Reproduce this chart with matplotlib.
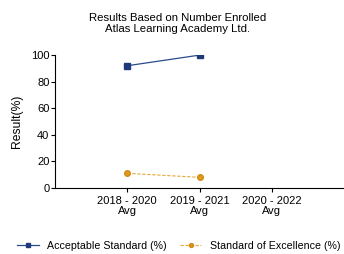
import matplotlib.pyplot as plt
import numpy as np

plt.rcParams['font.family'] = ['Liberation Sans', 'DejaVu Sans']

periods = ['2018 - 2020\nAvg', '2019 - 2021\nAvg', '2020 - 2022\nAvg']
acceptable = [92, 100]
excellence = [11, 8]

fig = plt.figure(figsize=(3.44, 2.54), dpi=100)
ax = fig.add_axes([0.16, 0.26, 0.84, 0.523])

x = np.arange(len(periods))
ax.plot(x[:2], acceptable, color='#2b4a8c', lw=0.9, marker='s', ms=4,
        mfc='#1f3a7a', mec='#1f3a7a', label='Acceptable Standard (%)')
ax.plot(x[:2], excellence, color='#e6a83a', lw=0.8, ls=(0, (3, 1.5)), marker='o', ms=4,
        mfc='#e09a20', mec='#d08a10', label='Standard of Excellence (%)')

ax.set_xlim(-1, 3)
ax.set_ylim(0, 100)
ax.set_yticks([0, 20, 40, 60, 80, 100])
ax.set_xticks(x)
ax.set_xticklabels(periods, fontsize=8, linespacing=1.0)
ax.tick_params(axis='y', labelsize=8, length=3, width=0.8, pad=1)
ax.tick_params(axis='x', length=3, width=0.8, pad=3)
ax.spines['top'].set_visible(False)
ax.spines['right'].set_visible(False)
ax.set_ylabel('Result(%)', fontsize=8.7, labelpad=6)

fig.text(0.515, 0.907, 'Results Based on Number Enrolled\nAtlas Learning Academy Ltd.',
         ha='center', va='center', fontsize=8.2, linespacing=1.1)

fig.legend(loc='lower center', bbox_to_anchor=(0.52, -0.025), ncol=2, frameon=False,
           fontsize=7.7, handlelength=2.0, columnspacing=1.2, markerscale=0.7)

fig.savefig('out.png', dpi=100)
